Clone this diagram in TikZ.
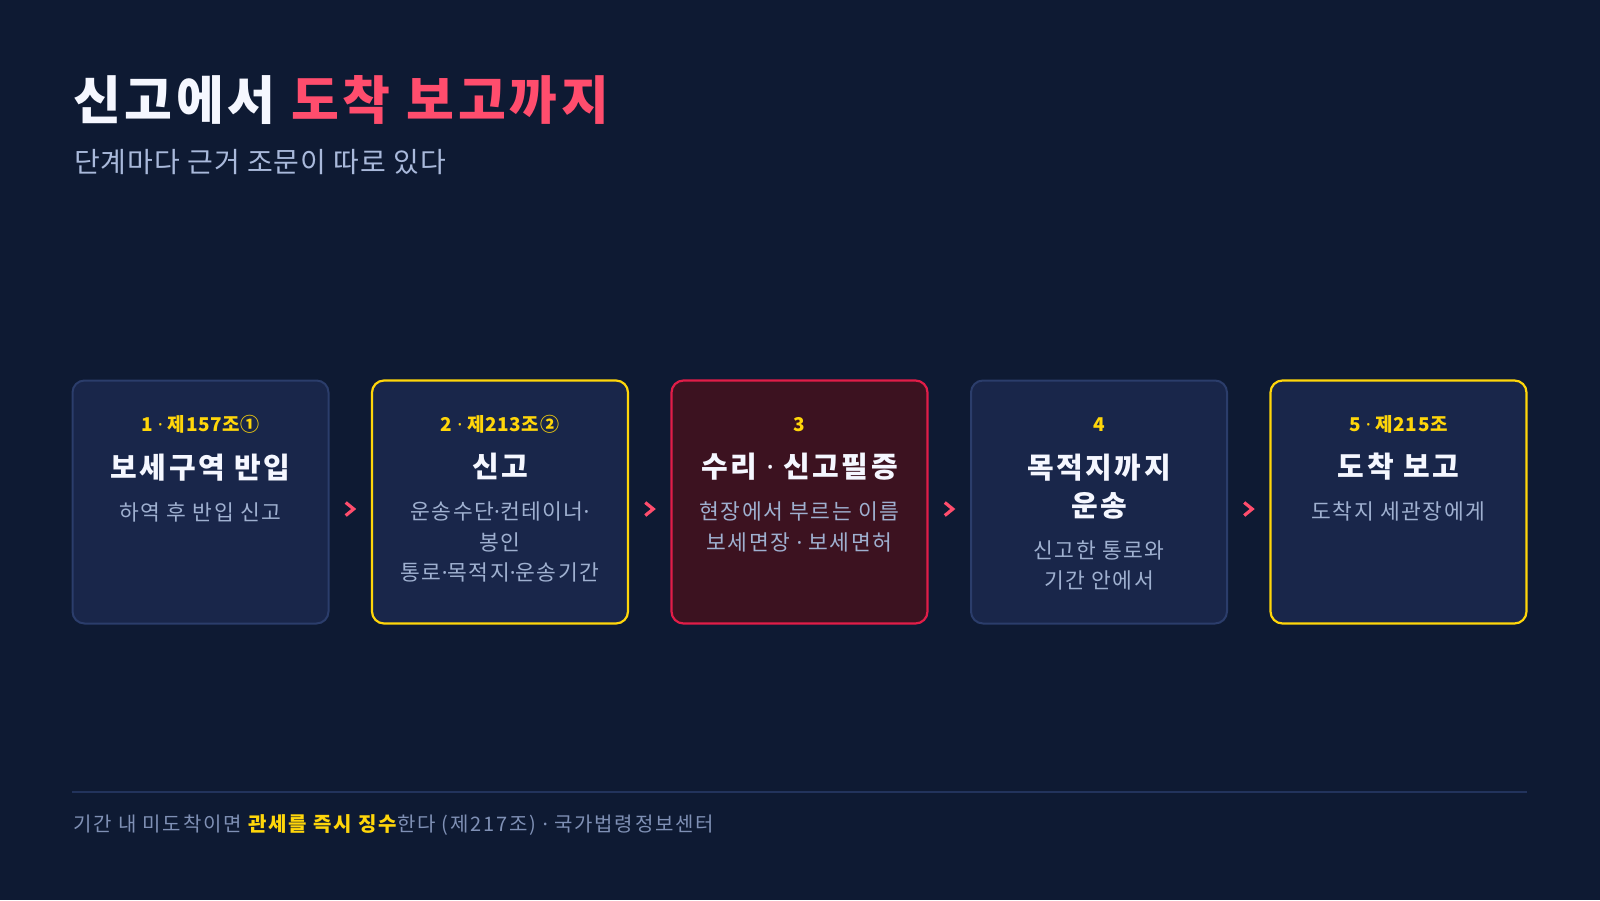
\documentclass[tikz,border=0pt]{standalone}
\usepackage{fontspec}
\setmainfont{Noto Sans CJK KR}
\newfontfamily\latf{Noto Sans}
\newcommand\mdot{{\latf ·}}
\usetikzlibrary{calc}
\definecolor{bg}{HTML}{0E1A33}
\definecolor{boxfill}{HTML}{19264A}
\definecolor{boxline}{HTML}{2B3D6B}
\definecolor{redfill}{HTML}{3C1220}
\definecolor{redline}{HTML}{E11D48}
\definecolor{yel}{HTML}{FFD60A}
\definecolor{wht}{HTML}{F5F7FF}
\definecolor{pink}{HTML}{FF4D6D}
\definecolor{subc}{HTML}{A9B9DB}
\definecolor{descc}{HTML}{9FB0D0}
\definecolor{footc}{HTML}{7F90B5}
\definecolor{footline}{HTML}{22335C}
\tikzset{
  stepbox/.style={draw=boxline, line width=2pt, fill=boxfill, rounded corners=12pt,
    minimum width=256pt, minimum height=243pt, inner sep=0pt},
  yelbox/.style={stepbox, draw=yel, line width=2.2pt},
  redbox/.style={stepbox, draw=redline, fill=redfill, line width=2.2pt},
  lab/.style={anchor=base, inner sep=0pt, text=yel, font=\bfseries\fontsize{19}{22}\selectfont\addfontfeatures{LetterSpace=3}},
  ttl/.style={anchor=base, inner sep=0pt, text=wht, font=\bfseries\fontsize{29}{36}\selectfont\addfontfeatures{LetterSpace=9}},
  dsc/.style={anchor=base, inner sep=0pt, text=descc, font=\fontsize{21.5}{26}\selectfont\addfontfeatures{LetterSpace=7}},
  chev/.style={draw=pink, line width=3.2pt, line cap=butt, line join=miter},
}
\begin{document}
\begin{tikzpicture}[x=1pt,y=-1pt]
\fill[bg] (0,0) rectangle (1600,900);
\useasboundingbox (0,0) rectangle (1600,900);

% title
\node[anchor=base west, inner sep=0pt, font=\bfseries\fontsize{52}{60}\selectfont\addfontfeatures{LetterSpace=7.2}] (title) at (73,119.5)
  {\textcolor{wht}{신고에서} \textcolor{pink}{도착 보고까지}};
\node[anchor=base west, inner sep=0pt, text=subc, font=\fontsize{28}{34}\selectfont\addfontfeatures{LetterSpace=3.5}] (subtitle) at (74,172)
  {단계마다 근거 조문이 따로 있다};

% boxes
\node[stepbox] (b1) at (200.5,502) {};
\node[yelbox]  (b2) at (500,502) {};
\node[redbox]  (b3) at (799.5,502) {};
\node[stepbox] (b4) at (1099,502) {};
\node[yelbox]  (b5) at (1398.5,502) {};

% box 1
\node[lab] (l1) at ([yshift=-52pt]b1.north) {1 \mdot{} 제157조①};
\node[ttl] (t1) at ([yshift=-98.5pt]b1.north) {보세구역 반입};
\node[dsc] (d1) at ([yshift=-140.5pt]b1.north) {하역 후 반입 신고};

% box 2
\node[lab] (l2) at ([yshift=-52pt]b2.north) {2 \mdot{} 제213조②};
\node[ttl] (t2) at ([yshift=-98.5pt]b2.north) {신고};
\node[dsc] (d2a) at ([yshift=-140.5pt]b2.north) {운송수단\mdot{}컨테이너\mdot};
\node[dsc] (d2b) at ([yshift=-171pt]b2.north) {봉인};
\node[dsc] (d2c) at ([yshift=-201.5pt]b2.north) {통로\mdot{}목적지\mdot{}운송기간};

% box 3
\node[lab] (l3) at ([yshift=-52pt]b3.north) {3};
\node[ttl] (t3) at ([yshift=-98.5pt]b3.north) {수리 \mdot{} 신고필증};
\node[dsc] (d3a) at ([yshift=-140.5pt]b3.north) {현장에서 부르는 이름};
\node[dsc] (d3b) at ([yshift=-171pt]b3.north) {보세면장 \mdot{} 보세면허};

% box 4
\node[lab] (l4) at ([yshift=-52pt]b4.north) {4};
\node[ttl] (t4a) at ([yshift=-98.5pt]b4.north) {목적지까지};
\node[ttl] (t4b) at ([yshift=-136.5pt]b4.north) {운송};
\node[dsc] (d4a) at ([yshift=-178.5pt]b4.north) {신고한 통로와};
\node[dsc] (d4b) at ([yshift=-209pt]b4.north) {기간 안에서};

% box 5
\node[lab] (l5) at ([yshift=-52pt]b5.north) {5 \mdot{} 제215조};
\node[ttl] (t5) at ([yshift=-98.5pt]b5.north) {도착 보고};
\node[dsc] (d5) at ([yshift=-140.5pt]b5.north) {도착지 세관장에게};

% chevrons between boxes
\foreach \a/\b in {b1/b2,b2/b3,b3/b4,b4/b5}{
  \coordinate (m\a) at ($(\a.east)!0.5!(\b.west)+(0,7)$);
  \draw[chev] ($(m\a)+(-4.5,-6.5)$) -- ($(m\a)+(3.5,0)$) -- ($(m\a)+(-4.5,6.5)$);
}

% footer
\coordinate (fl) at (72,792);
\coordinate (fr) at (1527,792);
\draw[footline, line width=1.2pt] (fl) -- (fr);
\node[anchor=base west, inner sep=0pt, text=footc, font=\fontsize{20}{24}\selectfont\addfontfeatures{LetterSpace=9}] (foot) at (73,831)
  {기간 내 미도착이면 {\bfseries\color{yel}관세를 즉시 징수}한다 (제217조) \mdot{} 국가법령정보센터};
\end{tikzpicture}
\end{document}
